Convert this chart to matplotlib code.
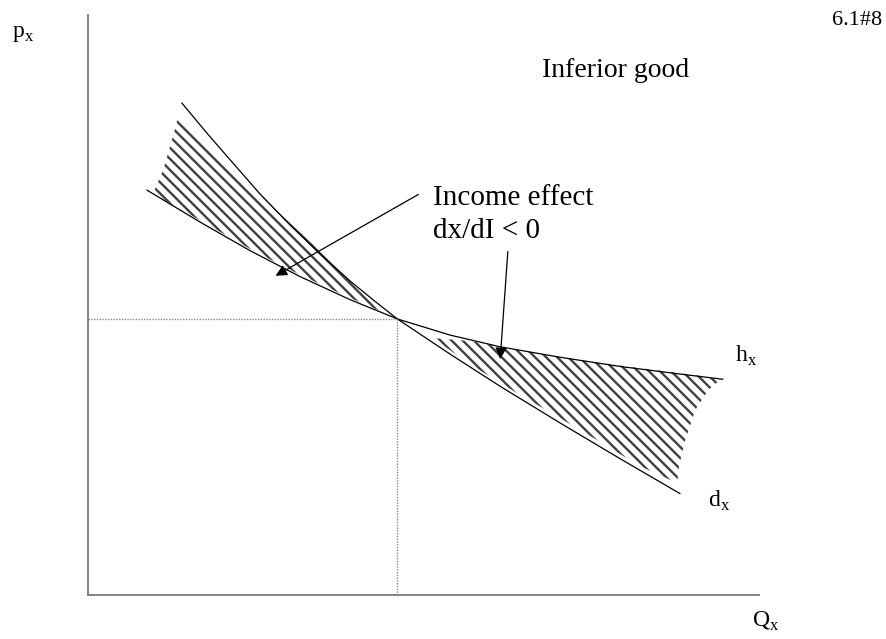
import matplotlib
matplotlib.use('Agg')
import matplotlib.pyplot as plt

plt.rcParams['font.family'] = ['Liberation Serif', 'DejaVu Serif']
plt.rcParams['mathtext.fontset'] = 'custom'
plt.rcParams['mathtext.rm'] = 'Liberation Serif'
plt.rcParams['hatch.linewidth'] = 1.7

# demand curve d_x (uncompensated)
d_q = [1.40, 1.76, 2.12, 2.56, 3.01, 3.46, 3.91, 4.28, 4.61, 5.40, 6.14, 7.03, 7.93, 8.82]
d_p = [8.48, 7.98, 7.50, 6.92, 6.38, 5.88, 5.41, 5.06, 4.76, 4.15, 3.60, 2.97, 2.35, 1.75]

# compensated demand h_x
h_q = [0.88, 1.67, 2.41, 3.16, 3.91, 4.61, 5.40, 6.14, 7.03, 7.93, 8.82, 9.46]
h_p = [6.98, 6.43, 5.94, 5.49, 5.09, 4.76, 4.48, 4.28, 4.10, 3.94, 3.81, 3.72]

# price / quantity at the crossing
q0, p0 = 4.61, 4.76

# shaded areas (income effect)
left_q = [1.34, 1.89, 2.56, 3.31, 4.05, 4.53, 3.91, 3.16, 2.41, 1.67, 0.97, 1.12, 1.22]
left_p = [8.22, 7.64, 6.90, 6.09, 5.31, 4.81, 5.12, 5.52, 5.97, 6.46, 6.92, 7.33, 7.72]
right_q = [5.14, 5.69, 6.44, 7.33, 8.23, 9.12, 9.42, 9.24, 9.05, 8.90, 8.81, 8.78,
           8.23, 7.33, 6.44, 5.69]
right_p = [4.43, 4.38, 4.22, 4.05, 3.91, 3.78, 3.71, 3.53, 3.19, 2.67, 2.24, 1.93,
           2.22, 2.85, 3.45, 3.98]

fig = plt.figure(figsize=(8.86, 6.39), dpi=100)
ax = fig.add_axes([88/886, 1-595/639, (759-88)/886, (595-15)/639])
ax.set_xlim(0, 10)
ax.set_ylim(0, 10)
for s in ['top', 'right']:
    ax.spines[s].set_visible(False)
for s in ['left', 'bottom']:
    ax.spines[s].set_color('#7a7a7a')
    ax.spines[s].set_linewidth(1.3)
ax.set_xticks([])
ax.set_yticks([])

ax.fill(left_q, left_p, facecolor='white', edgecolor='#404040', hatch='\\\\\\', linewidth=0)
ax.fill(right_q, right_p, facecolor='white', edgecolor='#404040', hatch='\\\\\\', linewidth=0)

ax.plot(d_q, d_p, color='black', lw=0.9)
ax.plot(h_q, h_p, color='black', lw=0.9)

ax.plot([0, q0], [p0, p0], color='#888888', lw=1, ls=(0, (1, 1)))
ax.plot([q0, q0], [0, p0], color='#888888', lw=1, ls=(0, (1, 1)))

arr = dict(arrowstyle='-|>', color='black', lw=0.9, mutation_scale=17)
ax.annotate('', xy=(2.76, 5.48), xytext=(4.96, 6.93), arrowprops=arr)
ax.annotate('', xy=(6.14, 4.02), xytext=(6.26, 5.97), arrowprops=arr)

ax.text(5.14, 6.72, 'Income effect', fontsize=21, va='baseline')
ax.text(5.14, 6.15, 'dx/dI < 0', fontsize=21, va='baseline')
ax.text(6.77, 8.93, 'Inferior good', fontsize=20, va='baseline')
ax.text(9.64, 4.02, r'h$_\mathregular{x}$', fontsize=17, va='baseline')
ax.text(9.24, 1.52, r'd$_\mathregular{x}$', fontsize=17, va='baseline')

fig.text(12/886, 1-37/639, r'p$_\mathregular{x}$', fontsize=17, va='baseline')
fig.text(752/886, 1-627/639, r'Q$_\mathregular{x}$', fontsize=17, va='baseline')
fig.text(832/886, 1-25/639, '6.1#8', fontsize=16, va='baseline')

fig.savefig('out.png', dpi=100, facecolor='white')
